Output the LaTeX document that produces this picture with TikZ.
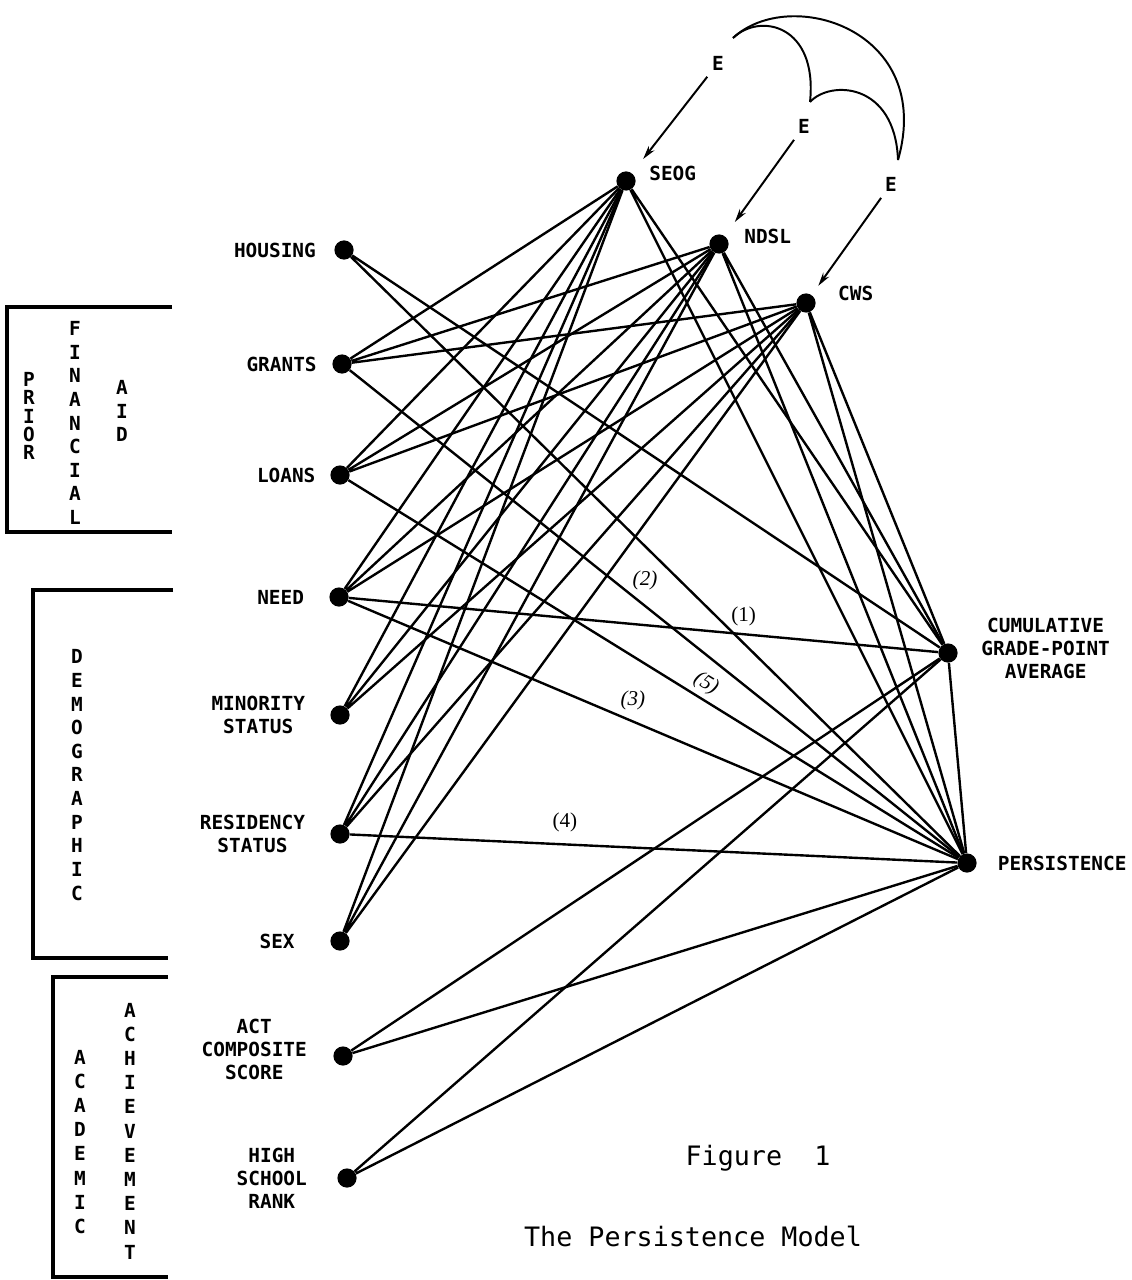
\documentclass[tikz,border=0pt]{standalone}
\usepackage{fontspec}
\newfontfamily\typefont{DejaVu Sans Mono}
\newfontfamily\numfont{Liberation Serif}
\usetikzlibrary{arrows.meta,calc,positioning}

\begin{document}
\begin{tikzpicture}[x=0.025cm, y=-0.025cm,
  every node/.style={inner sep=0pt},
  dot/.style={circle,fill=black,minimum size=0.48cm},
  link/.style={line width=1.7pt},
  lbl/.style={font=\typefont\bfseries\fontsize{13.8}{16.5}\selectfont, align=center},
  vstack/.style={font=\typefont\bfseries\fontsize{13.8}{#1}\selectfont, align=center},
  num/.style={font=\numfont\fontsize{15}{17}\selectfont, inner sep=1pt},
  capt/.style={font=\typefont\fontsize{19}{22}\selectfont},
  earrow/.style={line width=1.4pt, -{Stealth[length=3.4mm,width=1.8mm,open]}},
  bracket/.style={line width=2.2pt}]
  \useasboundingbox (0,0) rectangle (1131,1280);

  \node[dot] (seog) at (626,181) {};
  \node[dot] (ndsl) at (719,244) {};
  \node[dot] (cws) at (806,303) {};
  \node[dot] (housing) at (344,250) {};
  \node[dot] (grants) at (342,364) {};
  \node[dot] (loans) at (340,475) {};
  \node[dot] (need) at (339,597) {};
  \node[dot] (minority) at (340,715) {};
  \node[dot] (residency) at (340,834) {};
  \node[dot] (sex) at (340,941) {};
  \node[dot] (act) at (343,1056) {};
  \node[dot] (hsr) at (347,1178) {};
  \node[dot] (cgpa) at (948,653) {};
  \node[dot] (pers) at (967,863) {};

  \node[lbl, left=0.45cm of housing] (housinglbl) {HOUSING};
  \node[lbl, left=0.38cm of grants] (grantslbl) {GRANTS};
  \node[lbl, left=0.36cm of loans] (loanslbl) {LOANS};
  \node[lbl, left=0.62cm of need] (needlbl) {NEED};
  \node[lbl, left=0.62cm of minority] (minoritylbl) {MINORITY\\STATUS};
  \node[lbl, left=0.62cm of residency] (residencylbl) {RESIDENCY\\STATUS};
  \node[lbl, left=0.88cm of sex] (sexlbl) {SEX};
  \node[lbl, left=0.65cm of act, yshift=0.17cm] (actlbl) {ACT\\COMPOSITE\\SCORE};
  \node[lbl, left=0.75cm of hsr] (hsrlbl) {HIGH\\SCHOOL\\RANK};
  \node[lbl, right=0.58cm of cgpa, yshift=0.12cm] (cgpalbl) {CUMULATIVE\\GRADE-POINT\\AVERAGE};
  \node[lbl, right=0.52cm of pers] (perslbl) {PERSISTENCE};
  \node[lbl, right=0.33cm of seog, yshift=0.18cm] (seoglbl) {SEOG};
  \node[lbl, right=0.38cm of ndsl, yshift=0.18cm] (ndsllbl) {NDSL};
  \node[lbl, right=0.55cm of cws, yshift=0.25cm] (cwslbl) {CWS};

  \node[lbl, inner sep=3pt] (e1) at (718,63) {E};
  \node[lbl, inner sep=3pt] (e2) at (804,126) {E};
  \node[lbl, inner sep=3pt] (e3) at (891,184) {E};
  \draw[earrow, shorten <=2pt, shorten >=0.45cm] (e1) -- (seog);
  \draw[earrow, shorten <=2pt, shorten >=0.43cm] (e2) -- (ndsl);
  \draw[earrow, shorten <=2pt, shorten >=0.28cm] (e3) -- (cws);

  \coordinate (a1) at ($(e1)+(15,-25)$);
  \coordinate (a2) at ($(e2)+(6,-24)$);
  \coordinate (a3) at ($(e3)+(7,-24)$);
  \draw[line width=1.4pt] (a1) .. controls (760,12) and (818,25) .. (a2);
  \draw[line width=1.4pt] (a2) .. controls (830,80) and (895,82) .. (a3);
  \draw[line width=1.4pt] (a1) .. controls (790,-15) and (935,30) .. (a3);

  \draw[link] (housing) -- (cgpa) (housing) -- (pers);
  \draw[link] (grants) -- (seog) (grants) -- (ndsl) (grants) -- (cws);
  \draw[link] (grants) -- node[num, pos=0.46, anchor=south west, yshift=1pt] {\textit{(2)}} (pers);
  \draw[link] (loans) -- (seog) (loans) -- (ndsl) (loans) -- (cws);
  \draw[link] (loans) -- node[num, pos=0.573, sloped, above=2pt] {\textit{(5)}} (pers);
  \draw[link] (need) -- (seog) (need) -- (ndsl) (need) -- (cws);
  \draw[link] (need) -- node[num, pos=0.67, above=4pt] {(1)} (cgpa);
  \draw[link] (need) -- node[num, pos=0.467, above=6pt] {\textit{(3)}} (pers);
  \draw[link] (minority) -- (seog) (minority) -- (ndsl) (minority) -- (cws);
  \draw[link] (residency) -- (seog) (residency) -- (ndsl) (residency) -- (cws);
  \draw[link] (residency) -- node[num, pos=0.354, above=7pt] {(4)} (pers);
  \draw[link] (sex) -- (seog) (sex) -- (ndsl) (sex) -- (cws);
  \draw[link] (seog) -- (cgpa) (seog) -- (pers);
  \draw[link] (ndsl) -- (cgpa) (ndsl) -- (pers);
  \draw[link] (cws) -- (cgpa) (cws) -- (pers);
  \draw[link] (cgpa) -- (pers);
  \draw[link] (act) -- (cgpa) (act) -- (pers);
  \draw[link] (hsr) -- (cgpa) (hsr) -- (pers);

  \draw[bracket] (172,307) -- (7,307) -- (7,532) -- (172,532);
  \draw[bracket] (173,590) -- (33,590) -- (33,958) -- (168,958);
  \draw[bracket] (168,977) -- (53,977) -- (53,1277) -- (168,1277);
  \node[vstack=13.1pt] (prior) at (29,416) {P\\R\\I\\O\\R};
  \node[vstack=16.8pt] (financial) at (75,423) {F\\I\\N\\A\\N\\C\\I\\A\\L};
  \node[vstack=17pt] (aid) at (122,411) {A\\I\\D};
  \node[vstack=16.8pt] (demographic) at (77,775) {D\\E\\M\\O\\G\\R\\A\\P\\H\\I\\C};
  \node[vstack=17.1pt] (academic) at (80,1142) {A\\C\\A\\D\\E\\M\\I\\C};
  \node[vstack=17.2pt] (achievement) at (130,1131) {A\\C\\H\\I\\E\\V\\E\\M\\E\\N\\T};

  \node[capt] (fig) at (758,1158) {Figure\ \ 1};
  \node[capt] (title) at (693,1236) {The Persistence Model};
\end{tikzpicture}
\end{document}
